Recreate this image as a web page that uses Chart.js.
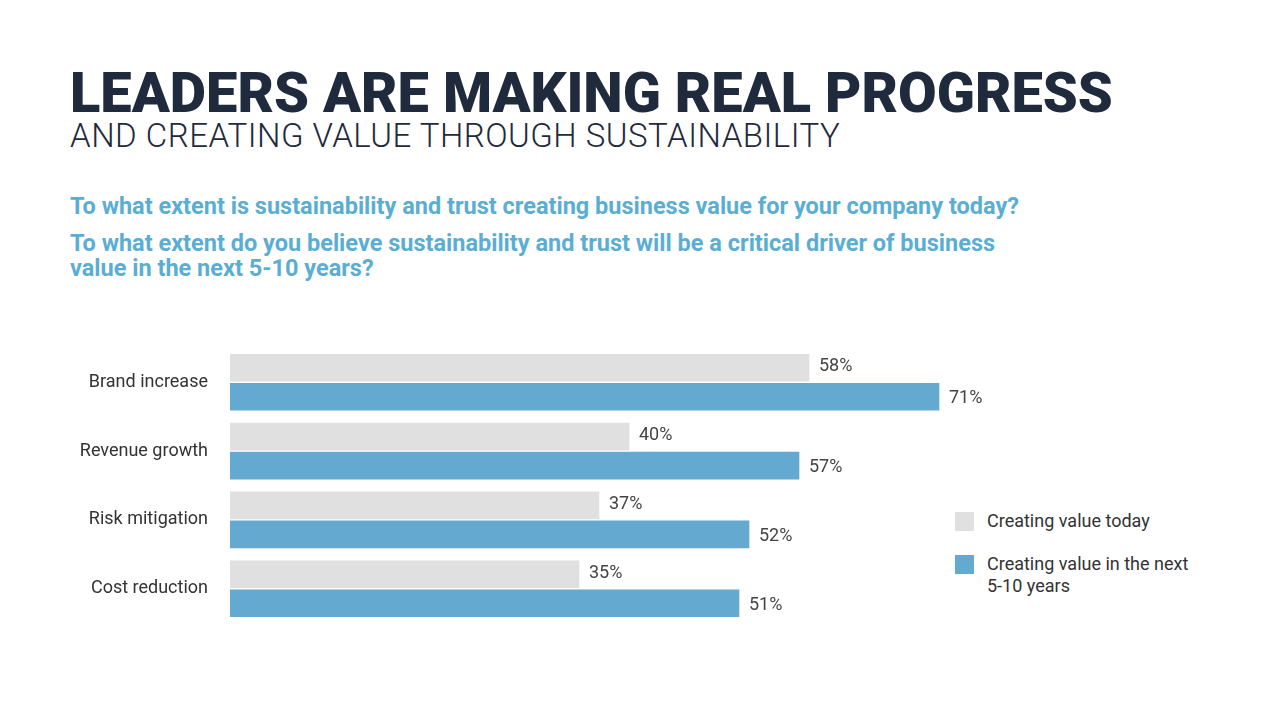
<!DOCTYPE html>
<html><head><meta charset="utf-8">
<script src="https://cdn.jsdelivr.net/npm/chart.js@4"></script>
<style>
body{margin:0;width:1280px;height:720px;background:#fff;font-family:Roboto,sans-serif;position:relative;overflow:hidden}
.t{position:absolute;left:70px;top:60px;font-size:56px;font-weight:900;color:#1f2a3c;white-space:nowrap}
.s{position:absolute;left:70px;top:116px;font-size:33px;font-weight:300;color:#1f2a3c;white-space:nowrap;letter-spacing:0.5px}
.q{position:absolute;left:70px;font-size:23.5px;font-weight:700;color:#5aaed3;line-height:25px;white-space:nowrap}
.lg{position:absolute;left:955px;font-size:18px;color:#333}
.lg span{position:absolute;left:0;top:2px;width:19px;height:19px}
.lg div{margin-left:32px;line-height:22px}
#wrap{position:absolute;left:0;top:323px;width:1280px;height:325px}
</style></head><body>
<div class="t">LEADERS ARE MAKING REAL PROGRESS</div>
<div class="s">AND CREATING VALUE THROUGH SUSTAINABILITY</div>
<div class="q" style="top:194px">To what extent is sustainability and trust creating business value for your company today?</div>
<div class="q" style="top:231px">To what extent do you believe sustainability and trust will be a critical driver of business<br>value in the next 5-10 years?</div>
<div class="lg" style="top:510px"><span style="background:#e0e0e0"></span><div>Creating value today</div></div>
<div class="lg" style="top:553px"><span style="background:#63a9d0"></span><div>Creating value in the next<br>5-10 years</div></div>
<div id="wrap"><canvas id="c" width="1280" height="325" style="width:1280px;height:325px"></canvas></div>
<script>
const categories=["Brand increase","Revenue growth","Risk mitigation","Cost reduction"];
const today=[58,40,37,35];
const future=[71,57,52,51];
const seriesNames=["Creating value today","Creating value in the next 5-10 years"];
const labelPlugin={id:'lbl',afterDatasetsDraw(ch){const c=ch.ctx;c.save();c.font='18px Roboto';c.fillStyle='#444';c.textBaseline='middle';
ch.data.datasets.forEach((d,i)=>{ch.getDatasetMeta(i).data.forEach((b,j)=>{c.fillText(d.data[j]+'%',b.x+9,b.y+(i==0?-1:2));});});c.restore();}};
new Chart(document.getElementById('c'),{type:'bar',
data:{labels:categories,datasets:[
{label:seriesNames[0],data:today,backgroundColor:'#e0e0e0',borderColor:'#ffffff',borderWidth:1,barThickness:29},
{label:seriesNames[1],data:future,backgroundColor:'#63a9d0',borderColor:'#ffffff',borderWidth:1,barThickness:29}]},
options:{indexAxis:'y',responsive:false,animation:false,
layout:{padding:{right:50,top:0,bottom:0}},
plugins:{legend:{display:false},tooltip:{enabled:false}},
scales:{x:{display:false,min:0,max:100},
y:{grid:{display:false},border:{display:false},afterFit(s){s.width=230;},ticks:{padding:14,color:'#333',font:{family:'Roboto',size:18}}}}},
plugins:[labelPlugin]});
</script></body></html>
